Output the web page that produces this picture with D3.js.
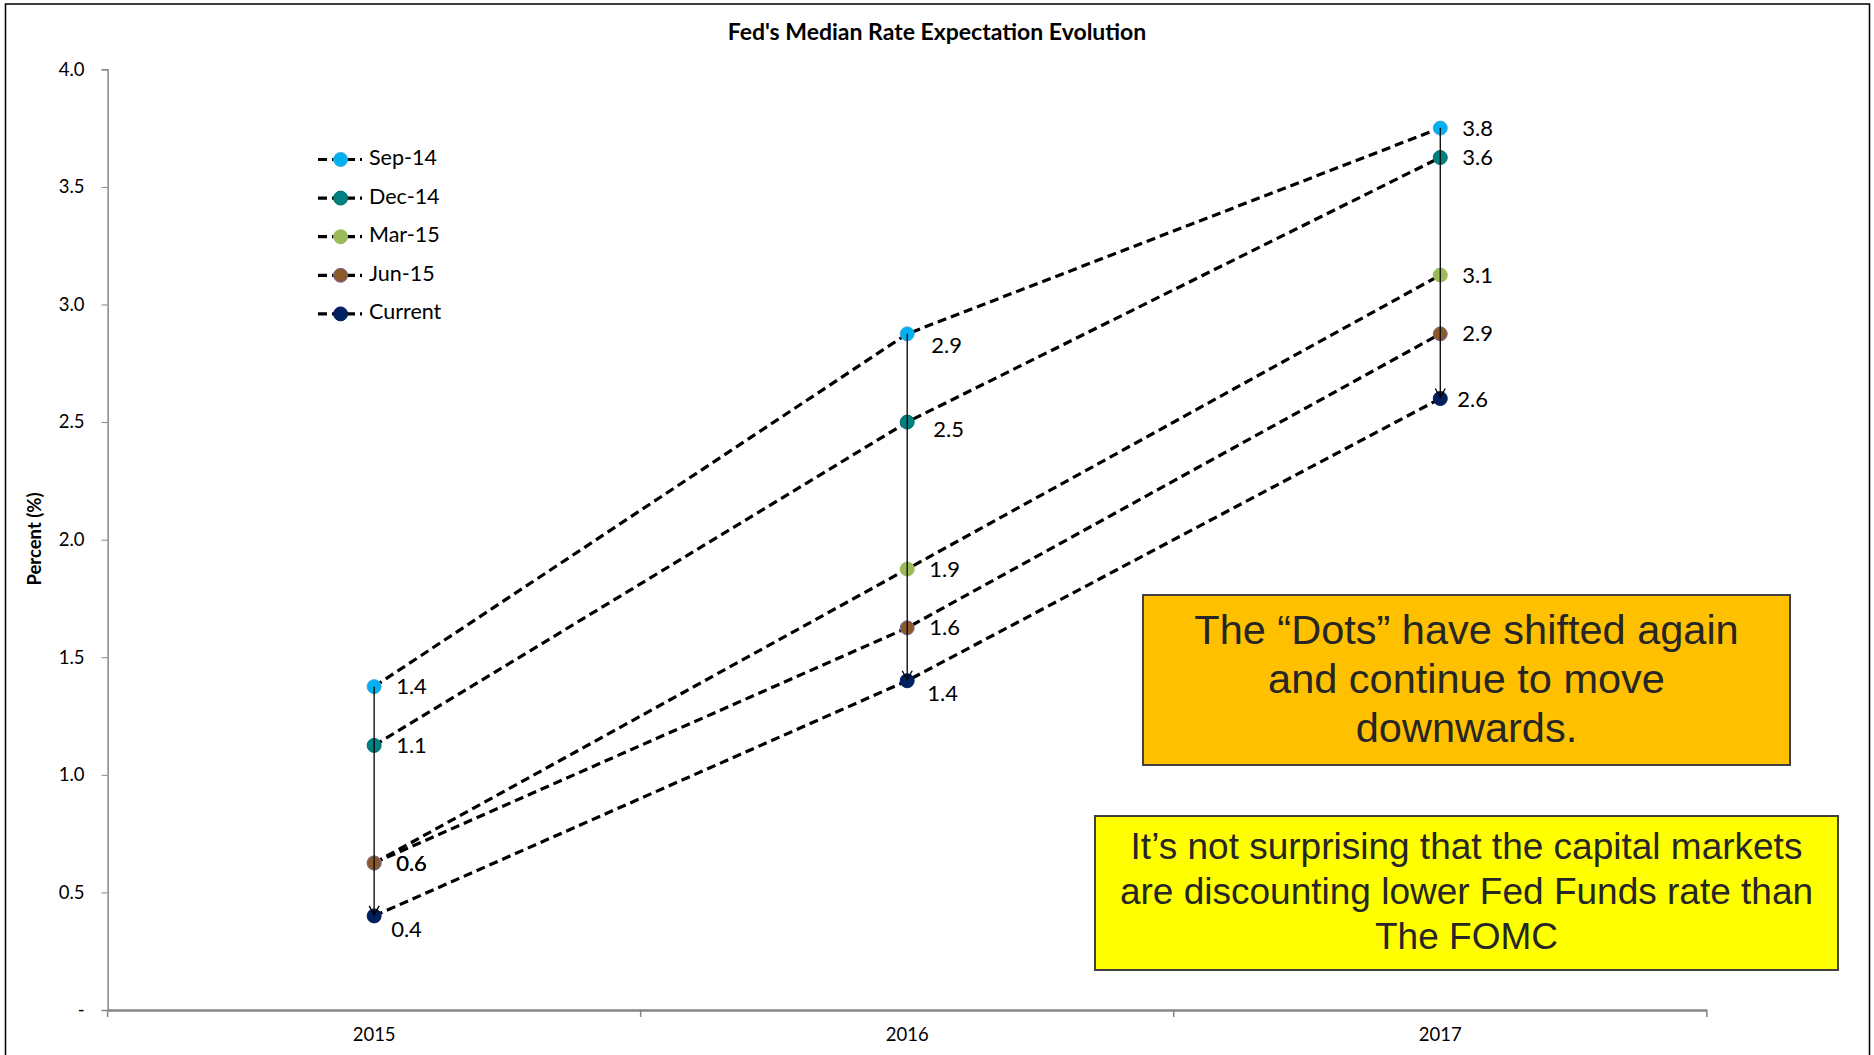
<!DOCTYPE html>
<html>
<head>
<meta charset="utf-8">
<script src="https://cdn.jsdelivr.net/npm/d3@7"></script>
<style>
    html, body { margin: 0; padding: 0; background: #fff; }
    svg { display: block; }
</style>
</head>
<body>
<div id="chart"></div>
<script>
// Data
const categories = ["2015", "2016", "2017"];
const seriesNames = ["Sep-14", "Dec-14", "Mar-15", "Jun-15", "Current"];
const sep14 = [1.375, 2.875, 3.75];
const dec14 = [1.125, 2.5, 3.625];
const mar15 = [0.625, 1.875, 3.125];
const jun15 = [0.625, 1.625, 2.875];
const current = [0.4, 1.4, 2.6];
const yTicks = [0, 0.5, 1, 1.5, 2, 2.5, 3, 3.5, 4];

const seriesValues = [sep14, dec14, mar15, jun15, current];
const seriesFill = ["#00B0F0", "#008080", "#9BBB59", "#8B5A2B", "#002060"];
const seriesStroke = ["#3FA9E0", "#007070", "#9BBB59", "#8064A2", "#002060"];

// label nudges (dx, dy) per "category|series" where Excel moved them
const labelNudge = {
    "0|4": [17, 13],
    "1|0": [24, 12],
    "1|1": [26, 7],
    "1|4": [20, 13],
    "2|4": [17, 1]
};

const width = 1874;
const height = 1055;
const margin = { left: 107.6, right: 1706.8, top: 69.3, bottom: 1010 };
const font = "Lato, 'Open Sans', sans-serif";

const svg = d3.select("#chart")
    .append("svg")
    .attr("width", width)
    .attr("height", height);

// outer chart border
svg.append("rect")
    .attr("x", 5.5)
    .attr("y", 4)
    .attr("width", 1864)
    .attr("height", 1060)
    .attr("fill", "none")
    .attr("stroke", "#000")
    .attr("stroke-width", 1.5);

const x = d3.scaleBand()
    .domain(categories)
    .range([margin.left, margin.right])
    .padding(0);

const y = d3.scaleLinear()
    .domain([0, 4])
    .range([margin.bottom, margin.top]);

const cx = c => x(c) + x.bandwidth() / 2;

// title
svg.append("text")
    .attr("x", 937)
    .attr("y", 34)
    .attr("text-anchor", "middle")
    .attr("dominant-baseline", "middle")
    .attr("font-family", font)
    .attr("font-weight", "bold")
    .attr("font-size", 23)
    .text("Fed's Median Rate Expectation Evolution");

// y axis
const yAxis = svg.append("g")
    .attr("transform", `translate(${margin.left},0)`)
    .call(d3.axisLeft(y)
        .tickValues(yTicks)
        .tickSize(6)
        .tickPadding(17)
        .tickFormat(d => d === 0 ? "-" : d3.format(".1f")(d)));
yAxis.select(".domain").attr("stroke", "#868686").attr("stroke-width", 1.5);
yAxis.selectAll(".tick line").attr("stroke", "#868686");
yAxis.selectAll(".tick text")
    .attr("font-family", font)
    .attr("font-size", 18.5)
    .attr("fill", "#000");

svg.append("text")
    .attr("transform", "translate(36,539) rotate(-90)")
    .attr("text-anchor", "middle")
    .attr("dominant-baseline", "middle")
    .attr("font-family", font)
    .attr("font-weight", "bold")
    .attr("font-size", 18.5)
    .text("Percent (%)");

// x axis
const xAxis = svg.append("g")
    .attr("transform", `translate(0,${margin.bottom})`)
    .call(d3.axisBottom(x).tickSize(0).tickPadding(18));
xAxis.select(".domain").attr("stroke", "#868686").attr("stroke-width", 2.5);
xAxis.selectAll(".tick text")
    .attr("font-family", font)
    .attr("font-size", 18.5)
    .attr("fill", "#000");

const boundaries = categories.map(c => x(c)).concat([x(categories[categories.length - 1]) + x.bandwidth()]);
xAxis.selectAll(".bound")
    .data(boundaries)
    .join("line")
    .attr("class", "bound")
    .attr("x1", d => d)
    .attr("x2", d => d)
    .attr("y1", 0)
    .attr("y2", 7)
    .attr("stroke", "#868686")
    .attr("stroke-width", 1.5);

// dashed series lines
const line = d3.line()
    .x((d, i) => cx(categories[i]))
    .y(d => y(d));

svg.append("g")
    .selectAll("path")
    .data(seriesValues)
    .join("path")
    .attr("d", d => line(d))
    .attr("fill", "none")
    .attr("stroke", "#000")
    .attr("stroke-width", 3.2)
    .attr("stroke-dasharray", "9,5");

// markers
seriesValues.forEach((vals, s) => {
    svg.append("g")
        .selectAll("circle")
        .data(vals)
        .join("circle")
        .attr("cx", (d, i) => cx(categories[i]))
        .attr("cy", d => y(d))
        .attr("r", 7)
        .attr("fill", seriesFill[s])
        .attr("stroke", seriesStroke[s])
        .attr("stroke-width", 1);
});

// arrows from top dot down to current dot
svg.append("defs").append("marker")
    .attr("id", "vhead")
    .attr("viewBox", "0 0 12 12")
    .attr("refX", 10)
    .attr("refY", 6)
    .attr("markerWidth", 12)
    .attr("markerHeight", 12)
    .attr("markerUnits", "userSpaceOnUse")
    .attr("orient", "auto")
    .append("path")
    .attr("d", "M1,1 L10,6 L1,11")
    .attr("fill", "none")
    .attr("stroke", "#000")
    .attr("stroke-width", 1.3);

svg.append("g")
    .selectAll("line")
    .data(categories)
    .join("line")
    .attr("x1", c => cx(c))
    .attr("x2", c => cx(c))
    .attr("y1", (c, i) => y(d3.max(seriesValues, v => v[i])))
    .attr("y2", (c, i) => y(d3.min(seriesValues, v => v[i])) - 1)
    .attr("stroke", "#000")
    .attr("stroke-width", 1.3)
    .attr("marker-end", "url(#vhead)");

// data labels
seriesValues.forEach((vals, s) => {
    svg.append("g")
        .selectAll("text")
        .data(vals)
        .join("text")
        .attr("x", (d, i) => cx(categories[i]) + (labelNudge[i + "|" + s] || [22, 0])[0])
        .attr("y", (d, i) => y(d) + 2 + (labelNudge[i + "|" + s] || [22, 0])[1])
        .attr("dominant-baseline", "middle")
        .attr("font-family", font)
        .attr("font-size", 22)
        .attr("fill", "#000")
        .text(d => d3.format(".1f")(d));
});

// legend
const legend = svg.append("g").attr("transform", "translate(318,159.5)");
const legendRow = legend.selectAll("g")
    .data(seriesNames)
    .join("g")
    .attr("transform", (d, i) => `translate(0,${i * 38.6})`);
legendRow.append("line")
    .attr("x1", 0)
    .attr("x2", 44)
    .attr("stroke", "#000")
    .attr("stroke-width", 3.2)
    .attr("stroke-dasharray", "9,5");
legendRow.append("circle")
    .attr("cx", 22.6)
    .attr("r", 7)
    .attr("fill", (d, i) => seriesFill[i])
    .attr("stroke", (d, i) => seriesStroke[i])
    .attr("stroke-width", 1);
legendRow.append("text")
    .attr("x", 51)
    .attr("dominant-baseline", "middle")
    .attr("font-family", font)
    .attr("font-size", 21.5)
    .text(d => d);

// callout boxes
const boxFont = "'Liberation Sans', Arial, sans-serif";

function callout(x0, y0, w, h, fill, lines, lineY, size) {
    svg.append("rect")
        .attr("x", x0)
        .attr("y", y0)
        .attr("width", w)
        .attr("height", h)
        .attr("fill", fill)
        .attr("stroke", "#404040")
        .attr("stroke-width", 2);
    svg.append("g")
        .selectAll("text")
        .data(lines)
        .join("text")
        .attr("x", x0 + w / 2)
        .attr("y", (d, i) => lineY[i])
        .attr("text-anchor", "middle")
        .attr("dominant-baseline", "middle")
        .attr("font-family", boxFont)
        .attr("font-size", size)
        .attr("fill", "#262626")
        .text(d => d);
}

callout(1143, 595, 647, 170, "#FFC000",
    ["The \u201CDots\u201D have shifted again", "and continue to move", "downwards."],
    [633, 682, 731], 41.5);

callout(1095, 816, 743, 154, "#FFFF00",
    ["It\u2019s not surprising that the capital markets", "are discounting lower Fed Funds rate than", "The FOMC"],
    [849, 894, 939], 37);
</script>
</body>
</html>
